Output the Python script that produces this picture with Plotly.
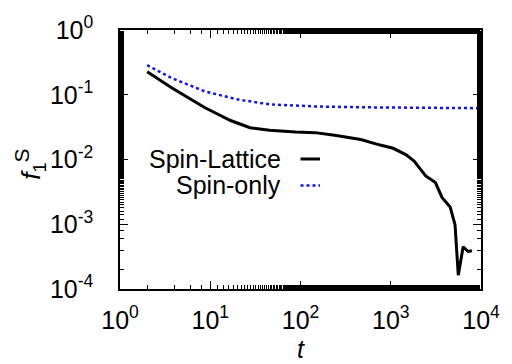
import plotly.graph_objects as go

# Spin-Lattice series
t_sl = [2, 3.77, 8.65, 16.8, 27.6, 45.5, 88, 145, 239, 465, 764, 1064, 1483, 1824,
        2440, 3126, 3697, 4550, 5157, 5602, 6340, 7180, 7940]
f_sl = [0.227, 0.127, 0.0635, 0.040, 0.031, 0.0282, 0.0266, 0.026, 0.0237, 0.0204,
        0.0167, 0.0149, 0.0118, 0.0094, 0.00557, 0.0044, 0.0026, 0.00185, 0.00098,
        0.000163, 0.00045, 0.00038, 0.00039]

# Spin-only series
t_so = [2, 3.77, 8.65, 19.8, 45.5, 145, 500, 1500, 4000, 10000]
f_so = [0.286, 0.18, 0.113, 0.085, 0.071, 0.066, 0.064, 0.063, 0.062, 0.062]

xtick_vals = [1, 10, 100, 1000, 10000]
xtick_text = ["10<sup>0</sup>", "10<sup>1</sup>", "10<sup>2</sup>", "10<sup>3</sup>", "10<sup>4</sup>"]
ytick_vals = [1e-4, 1e-3, 1e-2, 1e-1, 1]
ytick_text = ["10<sup>-4</sup>", "10<sup>-3</sup>", "10<sup>-2</sup>", "10<sup>-1</sup>", "10<sup>0</sup>"]

FONT = "Liberation Sans, Arial, Helvetica, sans-serif"

fig = go.Figure()
fig.add_trace(go.Scatter(x=t_sl, y=f_sl, mode="lines", name="Spin-Lattice",
                         line=dict(color="black", width=3)))
fig.add_trace(go.Scatter(x=t_so, y=f_so, mode="lines", name="Spin-only",
                         line=dict(color="#1010ff", width=2.5, dash="dot")))

axis_common = dict(showgrid=False, zeroline=False, showline=True, linecolor="black",
                   linewidth=1.5, mirror="allticks", ticks="inside", ticklen=8,
                   tickwidth=1, tickcolor="black",
                   tickfont=dict(family=FONT, size=25, color="black"),
                   minor=dict(ticks="inside", ticklen=4, tickcolor="black", tickwidth=1))

fig.update_xaxes(type="log", range=[0, 4], tickvals=xtick_vals, ticktext=xtick_text,
                 ticklabelstandoff=8, **axis_common)
fig.update_yaxes(type="log", range=[-4, 0], tickvals=ytick_vals, ticktext=ytick_text,
                 ticklabelstandoff=20, **axis_common)

# Axis titles
fig.add_annotation(x=0.5, y=-0.232, xref="paper", yref="paper", text="<i>t</i>",
                   showarrow=False, xanchor="center", yanchor="middle",
                   font=dict(family=FONT, size=25, color="black"))
fig.add_annotation(x=-0.249, y=0.48, xref="paper", yref="paper",
                   text="<i>f</i><sub>1</sub><sup><span style='font-size:21px'>S</span></sup>",
                   textangle=-90, showarrow=False, xanchor="center", yanchor="middle",
                   font=dict(family=FONT, size=26, color="black"))

# Legend (text right-aligned, sample line on the right, as in the reference)
legend_items = [("Spin-Lattice", "black", 3, "solid", 0.502),
                ("Spin-only", "#1010ff", 2.5, "dot", 0.40)]
for label, col, w, dash, yy in legend_items:
    fig.add_annotation(x=0.452, y=yy, xref="paper", yref="paper", text=label,
                       showarrow=False, xanchor="right", yanchor="middle",
                       font=dict(family=FONT, size=25, color="black"))
    fig.add_shape(type="line", xref="paper", yref="paper", x0=0.50, x1=0.554,
                  y0=yy, y1=yy, line=dict(color=col, width=w, dash=dash))

fig.update_layout(width=512, height=364, showlegend=False,
                  margin=dict(l=120, r=22, t=24, b=75),
                  plot_bgcolor="white", paper_bgcolor="white",
                  font=dict(family=FONT, color="black"))

fig.write_html("out.html")
